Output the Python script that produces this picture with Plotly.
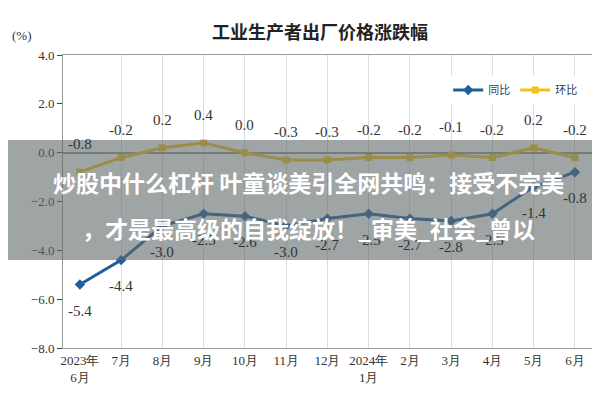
import plotly.graph_objects as go

months = ["2023年<br>6月","7月","8月","9月","10月","11月","12月","2024年<br>1月","2月","3月","4月","5月","6月"]
yoy = [-5.4,-4.4,-3.0,-2.5,-2.6,-3.0,-2.7,-2.5,-2.7,-2.8,-2.5,-1.4,-0.8]
mom = [-0.8,-0.2,0.2,0.4,0.0,-0.3,-0.3,-0.2,-0.2,-0.1,-0.2,0.2,-0.2]
x = list(range(len(months)))

serif = "Liberation Serif, serif"
fig = go.Figure()
fig.add_trace(go.Scatter(x=x, y=yoy, name="同比", mode="lines+markers",
    line=dict(color="#1f5fa0", width=3), marker=dict(symbol="diamond", size=8)))
fig.add_trace(go.Scatter(x=x, y=mom, name="环比", mode="lines+markers",
    line=dict(color="#f2c21b", width=3), marker=dict(symbol="square", size=7)))

ann = []
for i, v in enumerate(mom):
    ann.append(dict(x=i, y=v, text=f"{v:.1f}", showarrow=False, yshift=28,
                    font=dict(family=serif, size=15, color="#333")))
for i, v in enumerate(yoy):
    ann.append(dict(x=i, y=v, text=f"{v:.1f}", showarrow=False, yshift=-26,
                    font=dict(family=serif, size=15, color="#333")))
ann.append(dict(x=-0.1, y=1.1, xref="paper", yref="paper", text="(%)", showarrow=False,
                font=dict(family=serif, size=13, color="#333")))
for txt, yp in [("炒股中什么杠杆 叶童谈美引全网共鸣：接受不完美", 0.565), ("，才是最高级的自我绽放！_审美_社会_曾以", 0.41)]:
    ann.append(dict(x=0.458, y=yp, xref="paper", yref="paper", text=txt, showarrow=False,
                    font=dict(family="Noto Sans CJK SC", size=23, color="white", weight="bold")))

fig.update_layout(
    width=600, height=400, margin=dict(l=55, r=10, t=47, b=60),
    paper_bgcolor="white", plot_bgcolor="white",
    title=dict(text="<b>工业生产者出厂价格涨跌幅</b>", x=0.52, y=0.955,
               font=dict(family="Noto Sans CJK SC", size=18, color="#222")),
    legend=dict(orientation="h", x=0.72, y=0.93, font=dict(family="Noto Sans CJK SC", size=11)),
    annotations=ann,
    shapes=[dict(type="rect", xref="paper", yref="paper", x0=-0.11, x1=1.02, y0=0.30, y1=0.71,
                 fillcolor="rgba(95,105,105,0.6)", line=dict(width=0), layer="above")],
)
fig.update_xaxes(range=[-0.41, 12.56], tickvals=x, ticktext=months, showgrid=True,
                 gridcolor="#ddd", showline=True, linecolor="#999", mirror=True,
                 tickfont=dict(family=serif, size=13, color="#333"))
fig.update_yaxes(range=[-8, 4], dtick=2, tickformat=".1f", showgrid=False,
                 zeroline=True, zerolinecolor="#999", showline=True, linecolor="#999", mirror=True,
                 ticks="outside", tickfont=dict(family=serif, size=13, color="#333"))
fig.write_html("out.html")
